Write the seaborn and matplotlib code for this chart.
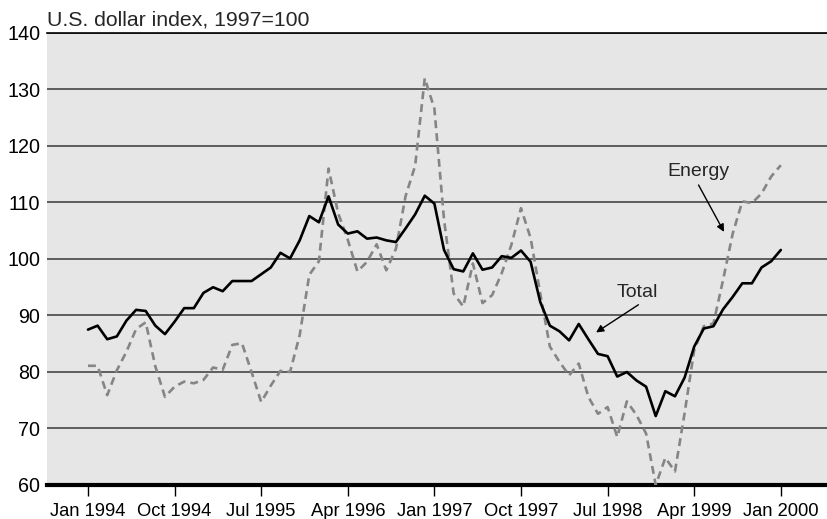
import matplotlib
matplotlib.use("Agg")
import matplotlib.pyplot as plt
import seaborn as sns
import pandas as pd
import numpy as np

# ---- data (monthly, Jan 1994 .. Jan 2000) ----
total = [87.5, 88.2, 85.8, 86.3, 89.1, 91.0, 90.8, 88.2, 86.7, 88.9, 91.3, 91.3,
         94.0, 95.0, 94.3, 96.1, 96.1, 96.1, 97.3, 98.5, 101.1, 100.1, 103.3, 107.6,
         106.5, 111.1, 106.1, 104.5, 104.9, 103.6, 103.8, 103.3, 103.0, 105.4, 107.9, 111.2,
         109.8, 101.6, 98.2, 97.8, 101.0, 98.1, 98.5, 100.5, 100.2, 101.5, 99.5, 92.4,
         88.2, 87.2, 85.6, 88.5, 85.8, 83.2, 82.8, 79.2, 80.0, 78.5, 77.4, 72.2,
         76.6, 75.7, 79.0, 84.5, 87.7, 88.1, 91.1, 93.3, 95.7, 95.7, 98.5, 99.6,
         101.6]
energy = [81.1, 81.1, 75.9, 80.3, 83.6, 87.6, 88.8, 81.0, 75.6, 77.4, 78.3, 78.0,
          78.6, 80.8, 80.4, 84.8, 85.1, 80.0, 74.7, 77.6, 80.2, 80.0, 86.5, 97.2,
          99.6, 116.0, 108.1, 103.4, 97.8, 99.5, 102.6, 98.0, 101.8, 111.1, 116.5, 132.0,
          126.6, 107.0, 93.9, 91.6, 99.2, 92.2, 93.6, 97.5, 102.5, 109.0, 103.7, 93.9,
          84.5, 81.8, 79.4, 81.5, 75.6, 72.6, 73.8, 68.5, 74.8, 72.4, 69.1, 60.0,
          64.8, 62.4, 72.7, 83.9, 88.1, 88.6, 96.3, 104.5, 110.2, 109.9, 111.6, 114.6,
          116.6]
tick_labels = ["Jan 1994", "Oct 1994", "Jul 1995", "Apr 1996", "Jan 1997",
               "Oct 1997", "Jul 1998", "Apr 1999", "Jan 2000"]
y_ticks = [60, 70, 80, 90, 100, 110, 120, 130, 140]

months = np.arange(len(total))
df = pd.DataFrame({
    "month": np.concatenate([months, months]),
    "value": total + energy,
    "series": ["Total"] * len(total) + ["Energy"] * len(energy),
})

sns.set_style("white")
plt.rcParams["font.family"] = ["Liberation Sans", "DejaVu Sans"]

fig = plt.figure(figsize=(8.27, 5.19), dpi=100)
ax = fig.add_axes([46.5 / 827, 1 - 485 / 519, 1 - 46.5 / 827, (485 - 33) / 519])
ax.set_facecolor("#e6e6e6")

sns.lineplot(data=df, x="month", y="value", hue="series", style="series",
             hue_order=["Energy", "Total"], style_order=["Energy", "Total"],
             palette={"Energy": "#858585", "Total": "black"},
             dashes={"Energy": (3.0, 1.9), "Total": ""},
             linewidth=1.9, ax=ax, legend=False, zorder=3)

ax.set_xlim(-4.31, 76.8)
ax.set_ylim(60, 140)
ax.set_xticks(np.arange(0, 73, 9))
ax.set_xticklabels(tick_labels)
ax.set_yticks(y_ticks)
ax.set_yticklabels([str(v) for v in y_ticks])
ax.set_xlabel("")
ax.set_ylabel("")

ax.yaxis.grid(True, color="#383838", linewidth=1.1, zorder=1)
ax.set_axisbelow(True)
for s in ["left", "right"]:
    ax.spines[s].set_visible(False)
ax.spines["top"].set_color("black")
ax.spines["top"].set_linewidth(1.2)
ax.spines["bottom"].set_color("black")
ax.spines["bottom"].set_linewidth(3.0)

ax.tick_params(axis="x", direction="out", length=8, width=1.0, color="black",
               pad=5, labelsize=13.2, labelcolor="black", bottom=True)
ax.tick_params(axis="y", length=0, pad=4.5, labelsize=14.2, labelcolor="black")

fig.text(47 / 827, 1 - 26 / 519, "U.S. dollar index, 1997=100", fontsize=15.3,
         ha="left", va="baseline")

arrow = dict(arrowstyle="-|>", color="black", lw=1.0, mutation_scale=11,
             shrinkA=0, shrinkB=0)
ax.text(63.4, 114.7, "Energy", fontsize=14, ha="center", va="baseline")
ax.annotate("", xy=(66.1, 104.8), xytext=(63.45, 113.1), arrowprops=arrow)
ax.text(57.1, 93.3, "Total", fontsize=14, ha="center", va="baseline")
ax.annotate("", xy=(52.8, 87.0), xytext=(57.2, 91.9), arrowprops=arrow)

fig.savefig("out.png", dpi=100)
